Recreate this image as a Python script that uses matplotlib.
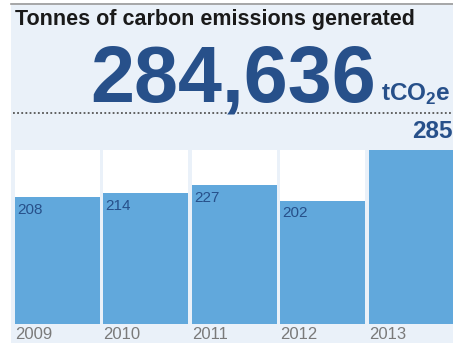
import matplotlib.pyplot as plt
from matplotlib.patches import Rectangle
from matplotlib.lines import Line2D

years = ["2009", "2010", "2011", "2012", "2013"]
values = [208, 214, 227, 202, 285]
total_label = "284,636"
unit_label = "tCO$_2$e"
title = "Tonnes of carbon emissions generated"

W, H = 453, 345
bg = "#eaf1f9"
bar_col = "#61a8dc"
dark = "#27508a"

plt.rcParams['font.family'] = ['Liberation Sans', 'DejaVu Sans']
plt.rcParams['mathtext.fontset'] = 'custom'
plt.rcParams['mathtext.rm'] = 'Liberation Sans:bold'
plt.rcParams['mathtext.bf'] = 'Liberation Sans:bold'

fig = plt.figure(figsize=(W / 100, H / 100), dpi=100)
fig.patch.set_facecolor("white")

def px(x, y):
    # pixel coords (from top-left) -> figure fraction
    return x / W, 1 - y / H

# light blue panel
fig.patches.append(Rectangle(px(11, 343), (W - 11) / W, 340 / H,
                             transform=fig.transFigure, facecolor=bg,
                             edgecolor="none", zorder=-5))
# top grey rule
x0, y0 = px(11, 3.5)
fig.add_artist(Line2D([x0, 1], [y0, y0], color="#9a9a9a", lw=1.2))
# dotted rule under the big number
x0, y0 = px(13, 112.5)
fig.add_artist(Line2D([x0, 1], [y0, y0], color="#555555", lw=1.3,
                      linestyle=(0, (1.0, 1.3))))

fig.text(*px(15, 20), title, fontsize=15.5, fontweight="bold",
         color="#1a1a1a", ha="left", va="center")
fig.text(*px(376, 101), total_label, fontsize=57, fontweight="bold",
         color=dark, ha="right", va="baseline")
fig.text(*px(381, 101), unit_label, fontsize=17.5, fontweight="bold",
         color=dark, ha="left", va="baseline")

# bars
l, b = px(15, 324)
ax = fig.add_axes([l, b, (W - 15) / W, 174 / H])
ax.set_facecolor("none")
ymax = max(values)
w = 85 / 88.5
xs = range(len(values))
ax.bar(xs, [ymax] * len(values), width=w, color="white", zorder=1)
ax.bar(xs, values, width=w, color=bar_col, zorder=2)
ax.set_xlim(-w / 2, len(values) - 1 + w / 2 - 0.01)
ax.set_ylim(0, ymax)
ax.axis("off")

for i, (yr, v) in enumerate(zip(years, values)):
    if v == ymax:
        ax.annotate(str(v), (i + w / 2, v), xytext=(-1, 5),
                    textcoords="offset points", ha="right", va="bottom",
                    fontsize=17.5, fontweight="bold", color=dark,
                    annotation_clip=False)
    else:
        ax.annotate(str(v), (i - w / 2, v), xytext=(1.5, -4),
                    textcoords="offset points", ha="left", va="top",
                    fontsize=11, color=dark, zorder=3)
    ax.annotate(yr, (i - w / 2, 0), xytext=(0, -2),
                textcoords="offset points", ha="left", va="top",
                fontsize=12, color="#7a7a7a", annotation_clip=False)

fig.savefig("out.png", dpi=100, facecolor=fig.get_facecolor())
